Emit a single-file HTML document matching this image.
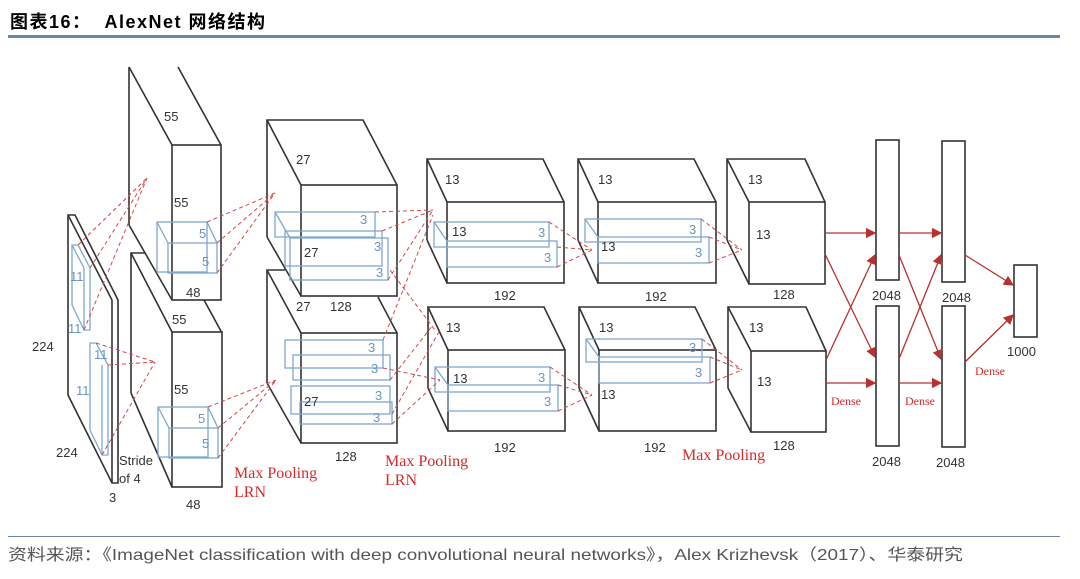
<!DOCTYPE html>
<html><head><meta charset="utf-8"><style>
body{margin:0;background:#fff;width:1080px;height:579px;overflow:hidden;position:relative;font-family:"Liberation Sans","Noto Sans CJK SC",sans-serif}
.t{position:absolute;left:10px;top:8px;font-size:18px;font-weight:bold;color:#000;letter-spacing:1.5px}
.bar{position:absolute;left:8px;top:35px;width:1052px;height:3px;background:#6a86ab}
.bl{position:absolute;left:8px;top:536px;width:1052px;height:1px;background:#6a86ab}
.f{position:absolute;left:8px;top:541px;font-size:16px;color:#555;white-space:nowrap;transform-origin:0 0;transform:scaleX(1.18)}
svg{position:absolute;left:0;top:0}
</style></head><body>
<div class="t">图表16：&nbsp; AlexNet 网络结构</div>
<div class="bar"></div>
<svg width="1080" height="579" font-family="Liberation Sans, sans-serif" font-size="13">
<g fill="none" stroke="#333" stroke-width="1.6">
<polygon points="68,215 75,215 118,300 118,483 112,483 68,395" fill="#fff"/>
<line x1="68" y1="215" x2="112" y2="300"/><line x1="112" y1="300" x2="112" y2="483"/>
<polyline points="129,225 129,67"/><line x1="129" y1="67" x2="172" y2="145"/><line x1="178" y1="67" x2="221" y2="145"/>
<line x1="129" y1="225" x2="172" y2="300"/>
<rect x="172" y="145" width="49" height="155" fill="#fff"/>
<polyline points="131,393 131,253 145,253"/><line x1="131" y1="253" x2="172" y2="332"/><line x1="204" y1="300" x2="222" y2="333"/>
<line x1="131" y1="393" x2="172" y2="487"/>
<rect x="172" y="332" width="50" height="155" fill="#fff"/>
<polyline points="267,237 267,120 363,120 397,185"/><line x1="267" y1="120" x2="301" y2="185"/><line x1="267" y1="237" x2="301" y2="296"/>
<rect x="301" y="185" width="96" height="111" fill="#fff"/>
<polyline points="267,383 267,270 285,270"/><line x1="267" y1="270" x2="301" y2="333"/><line x1="378" y1="297" x2="397" y2="333"/><line x1="267" y1="383" x2="301" y2="443"/>
<rect x="301" y="333" width="96" height="110" fill="#fff"/>
<g>
<polyline points="427,240 427,159 543,159 564,202"/><line x1="427" y1="159" x2="447" y2="202"/><line x1="427" y1="240" x2="447" y2="283"/>
<rect x="447" y="202" width="117" height="81"/>
</g>
<g transform="translate(1,148)"><polyline points="427,240 427,159 543,159 564,202"/><line x1="427" y1="159" x2="447" y2="202"/><line x1="427" y1="240" x2="447" y2="283"/><rect x="447" y="202" width="117" height="81"/></g>
<g transform="translate(151,0)"><polyline points="427,240 427,159 543,159 565,202"/><line x1="427" y1="159" x2="447" y2="202"/><line x1="427" y1="240" x2="447" y2="283"/><rect x="447" y="202" width="118" height="81"/></g>
<g transform="translate(152,148)"><polyline points="427,240 427,159 543,159 564,202"/><line x1="427" y1="159" x2="447" y2="202"/><line x1="427" y1="240" x2="447" y2="283"/><rect x="447" y="202" width="117" height="81"/></g>
<polyline points="727,240 727,159 805,159 825,202"/><line x1="727" y1="159" x2="749" y2="202"/><line x1="727" y1="240" x2="749" y2="284"/><rect x="749" y="202" width="76" height="82"/>
<polyline points="728,388 728,307 806,307 826,351"/><line x1="728" y1="307" x2="751" y2="351"/><line x1="728" y1="388" x2="751" y2="432"/><rect x="751" y="351" width="75" height="81"/>
<rect x="876" y="140" width="23" height="140"/><rect x="876" y="306" width="23" height="140"/>
<rect x="942" y="141" width="23" height="141"/><rect x="942" y="306" width="23" height="141"/>
<rect x="1014" y="265" width="23" height="72"/>
</g>
<g fill="none" stroke="#7fa8cf" stroke-width="1.3">
<polygon points="72,245 78,245 90,268 90,330 84,330 72,305"/><line x1="84" y1="268" x2="84" y2="330"/><line x1="72" y1="245" x2="84" y2="268"/>
<polygon points="90,343 96,343 108,365 108,455 102,455 90,430"/><line x1="102" y1="365" x2="102" y2="455"/>
<rect x="157" y="222" width="50" height="50"/><rect x="168" y="243" width="49" height="30"/><line x1="157" y1="222" x2="168" y2="243"/><line x1="207" y1="222" x2="217" y2="243"/>
<rect x="158" y="407" width="50" height="50"/><rect x="169" y="428" width="49" height="30"/><line x1="158" y1="407" x2="169" y2="428"/><line x1="208" y1="407" x2="218" y2="428"/>
<rect x="275" y="212" width="100" height="25"/><rect x="285" y="231" width="97" height="35"/><rect x="290" y="238" width="98" height="42"/><line x1="275" y1="212" x2="290" y2="238"/>
<rect x="285" y="340" width="98" height="28"/><rect x="293" y="355" width="97" height="25"/><rect x="291" y="386" width="99" height="28"/><rect x="300" y="402" width="92" height="22"/>
<rect x="434" y="222" width="115" height="25"/><rect x="447" y="241" width="110" height="26"/><line x1="434" y1="222" x2="447" y2="241"/>
<rect x="435" y="367" width="115" height="25"/><rect x="448" y="385" width="110" height="26"/><line x1="435" y1="367" x2="448" y2="385"/>
<rect x="585" y="219" width="116" height="23"/><rect x="598" y="237" width="111" height="26"/><line x1="585" y1="219" x2="598" y2="237"/>
<rect x="586" y="339" width="116" height="23"/><rect x="599" y="357" width="111" height="26"/><line x1="586" y1="339" x2="599" y2="357"/>
</g>
<g stroke="#d04848" stroke-width="1" stroke-dasharray="4,3" fill="none">
<path d="M78,245L147,178M90,268L147,178M84,330L147,178M78,245L140,185"/>
<path d="M96,343L155,362M108,365L155,362M102,455L155,362"/>
<path d="M207,222L275,193M217,243L275,193M217,273L275,193"/>
<path d="M208,407L276,380M218,428L276,380M218,458L276,380"/>
<path d="M375,212L433,210M382,231L433,210M388,280L433,210M383,340L433,215M390,380L433,325M390,270L435,330M392,414L440,330M383,368L440,380M392,424L440,380"/>
<path d="M549,222L592,250M557,247L592,250M557,267L592,250"/>
<path d="M550,367L592,395M558,385L592,395M558,411L592,395"/>
<path d="M701,219L742,250M709,237L742,250M709,263L742,250"/>
<path d="M702,339L742,370M710,357L742,370M710,383L742,370"/>
</g>
<defs><marker id="a" markerWidth="8" markerHeight="8" refX="7" refY="4" orient="auto"><path d="M0,0L8,4L0,8z" fill="#b83030"/></marker></defs>
<g stroke="#b83030" stroke-width="1.3" marker-end="url(#a)">
<line x1="825" y1="233" x2="875" y2="233"/><line x1="899" y1="233" x2="941" y2="233"/>
<line x1="825" y1="254" x2="875" y2="357"/><line x1="826" y1="360" x2="875" y2="255"/>
<line x1="826" y1="383" x2="875" y2="383"/><line x1="899" y1="383" x2="941" y2="383"/>
<line x1="899" y1="255" x2="941" y2="359"/><line x1="899" y1="359" x2="941" y2="255"/>
<line x1="965" y1="255" x2="1013" y2="285"/><line x1="965" y1="362" x2="1013" y2="315"/>
</g>
<g fill="#333">
<text x="164" y="121">55</text><text x="174" y="207">55</text><text x="186" y="297">48</text>
<text x="172" y="324">55</text><text x="174" y="394">55</text><text x="186" y="509">48</text>
<text x="32" y="351">224</text><text x="56" y="457">224</text><text x="109" y="502">3</text>
<text x="119" y="465">Stride</text><text x="119" y="483">of 4</text>
<text x="296" y="164">27</text><text x="304" y="257">27</text><text x="296" y="311">27</text><text x="330" y="311">128</text><text x="304" y="406">27</text><text x="335" y="461">128</text>
<text x="445" y="184">13</text><text x="452" y="236">13</text><text x="494" y="300">192</text>
<text x="446" y="332">13</text><text x="453" y="383">13</text><text x="494" y="452">192</text>
<text x="598" y="184">13</text><text x="601" y="251">13</text><text x="645" y="301">192</text>
<text x="599" y="332">13</text><text x="601" y="399">13</text><text x="644" y="452">192</text>
<text x="748" y="184">13</text><text x="756" y="239">13</text><text x="773" y="299">128</text>
<text x="749" y="332">13</text><text x="757" y="386">13</text><text x="773" y="450">128</text>
<text x="872" y="300">2048</text><text x="942" y="302">2048</text><text x="872" y="466">2048</text><text x="936" y="467">2048</text><text x="1007" y="356">1000</text>
</g>
<g fill="#6a93c0" font-size="13">
<text x="70" y="281">11</text><text x="68" y="333">11</text><text x="94" y="359">11</text><text x="76" y="395">11</text>
<text x="199" y="238">5</text><text x="202" y="266">5</text><text x="198" y="423">5</text><text x="202" y="448">5</text>
<text x="360" y="224">3</text><text x="374" y="251">3</text><text x="376" y="277">3</text>
<text x="368" y="352">3</text><text x="371" y="373">3</text><text x="375" y="400">3</text><text x="373" y="422">3</text>
<text x="538" y="237">3</text><text x="544" y="262">3</text><text x="538" y="382">3</text><text x="544" y="406">3</text>
<text x="689" y="234">3</text><text x="695" y="257">3</text><text x="689" y="352">3</text><text x="695" y="377">3</text>
</g>
<g fill="#d42a2a" font-family="Liberation Serif, serif">
<text x="234" y="478" font-size="16">Max Pooling</text><text x="234" y="497" font-size="16">LRN</text>
<text x="385" y="466" font-size="16">Max Pooling</text><text x="385" y="485" font-size="16">LRN</text>
<text x="682" y="460" font-size="16">Max Pooling</text>
<text x="831" y="405" font-size="12">Dense</text><text x="905" y="405" font-size="12">Dense</text><text x="975" y="375" font-size="12">Dense</text>
</g>
</svg>
<div class="bl"></div>
<div class="f">资料来源：《ImageNet classification with deep convolutional neural networks》，Alex Krizhevsk（2017）、华泰研究</div>
</body></html>
